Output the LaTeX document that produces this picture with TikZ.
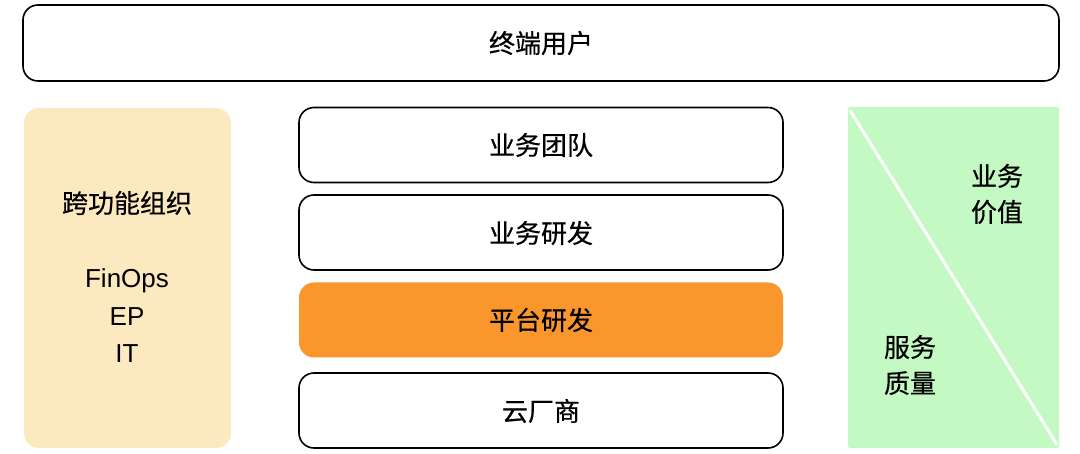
\documentclass[tikz,border=0pt]{standalone}
\usepackage{fontspec}
\setmainfont{Liberation Sans}
\newfontfamily\cjk[FakeBold=0.5]{Noto Sans CJK SC}
\definecolor{beige}{RGB}{253,233,192}
\definecolor{mint}{RGB}{197,249,195}
\definecolor{tangerine}{RGB}{249,151,44}
\begin{document}
\begin{tikzpicture}
      [x=1pt, y=-1pt,
       layer/.style={draw, line width=1.6pt, rounded corners=15pt, minimum width=484pt, minimum height=75pt},
       lbl/.style={font=\cjk\fontsize{26}{36}\selectfont, align=center}]
      \useasboundingbox (0,0) rectangle (1080,454);

      % top row
      \node[layer, minimum width=1036pt, minimum height=76pt] (user) at (541,43) {};
      \node[lbl] (usert) at (541,43) {终端用户};

      % middle stack
      \node[layer] (team) at (541,145) {};
      \node[layer] (bizdev) at (541,232.5) {};
      \node[layer, draw=none, fill=tangerine] (platdev) at (541,320) {};
      \node[layer] (cloud) at (541,410.5) {};
      \node[lbl] (teamt) at (541,145) {业务团队};
      \node[lbl] (bizdevt) at (541,233) {业务研发};
      \node[lbl] (platdevt) at (541,320) {平台研发};
      \node[lbl] (cloudt) at (541,411) {云厂商};

      % left column
      \node[fill=beige, rounded corners=15pt, minimum width=207pt, minimum height=340pt] (org) at (127.5,278) {};
      \node[lbl] (orgt) at (127,203) {跨功能组织};
      \node[font=\fontsize{26}{37.5}\selectfont, align=center] (orgl) at (127,316) {FinOps\\EP\\IT};

      % right column
      \node[fill=mint, rounded corners=2pt, minimum width=211pt, minimum height=341pt] (val) at (953.5,277.5) {};
      \draw[white, line width=3pt, shorten <=4pt, shorten >=4pt] (val.north west) -- (val.south east);
      \node[lbl] (valt) at (997,194) {业务\\价值};
      \node[lbl] (qost) at (910,365) {服务\\质量};
\end{tikzpicture}
\end{document}
